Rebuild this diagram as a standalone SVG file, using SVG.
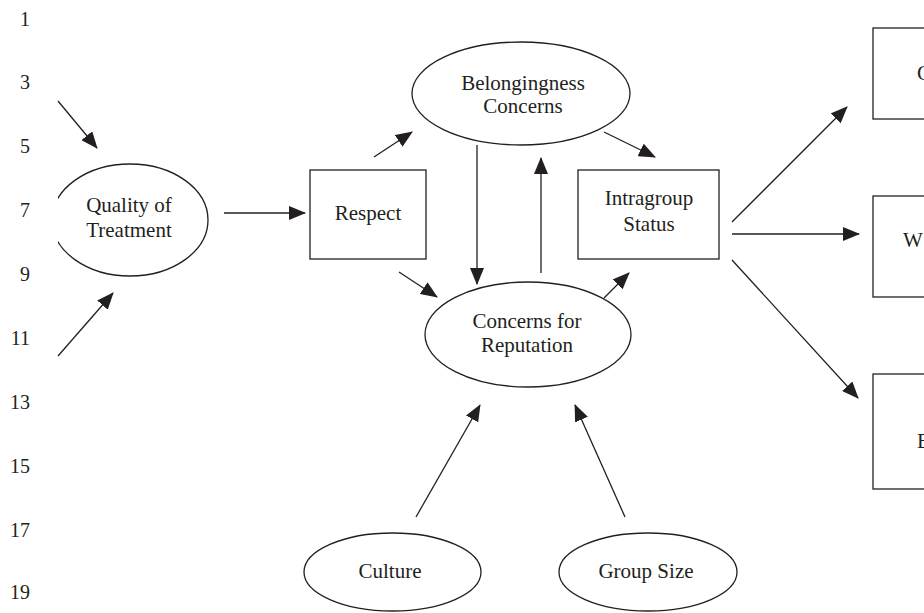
<svg xmlns="http://www.w3.org/2000/svg" width="924" height="613" viewBox="0 0 924 613">
<style>
.n{fill:none;stroke:#231f20;stroke-width:1.3}
.t{font-family:"Liberation Serif","Times New Roman",serif;font-size:21px;fill:#231f20;text-anchor:middle}
.num{font-family:"Liberation Serif","Times New Roman",serif;font-size:20px;fill:#231f20;text-anchor:end}
.c line{stroke:#231f20;stroke-width:1.3;marker-end:url(#ah)}
</style>
<defs>
<marker id="ah" markerUnits="userSpaceOnUse" markerWidth="18" markerHeight="14" refX="16" refY="7" orient="auto">
<path d="M0,0 L17,7 L0,14 Z" fill="#231f20"/>
</marker>
<clipPath id="qclip"><rect x="58" y="150" width="200" height="140"/></clipPath>
</defs>
<rect width="924" height="613" fill="#fff"/>
<g id="line-numbers">
<text class="num" x="30" y="26">1</text>
<text class="num" x="30" y="89">3</text>
<text class="num" x="30" y="153">5</text>
<text class="num" x="30" y="217">7</text>
<text class="num" x="30" y="281">9</text>
<text class="num" x="30" y="345">11</text>
<text class="num" x="30" y="409">13</text>
<text class="num" x="30" y="473">15</text>
<text class="num" x="30" y="537">17</text>
<text class="num" x="30" y="599">19</text>
</g>
<g class="c" id="connectors">
<line x1="58" y1="101" x2="97" y2="148"/>
<line x1="58" y1="356" x2="113" y2="293"/>
<line x1="224" y1="213" x2="305" y2="213"/>
<line x1="374" y1="157" x2="412" y2="132"/>
<line x1="399" y1="272" x2="437" y2="297"/>
<line x1="477" y1="145" x2="477" y2="284"/>
<line x1="541" y1="273" x2="541" y2="158"/>
<line x1="604" y1="132" x2="655" y2="157"/>
<line x1="604" y1="298" x2="629" y2="273"/>
<line x1="732" y1="222" x2="847" y2="107"/>
<line x1="732" y1="234" x2="859" y2="234"/>
<line x1="732" y1="260" x2="858" y2="398"/>
<line x1="416" y1="517" x2="480" y2="405"/>
<line x1="625" y1="517" x2="575" y2="405"/>
</g>
<g id="quality">
<ellipse class="n" cx="130" cy="220" rx="78" ry="56" clip-path="url(#qclip)"/>
<text class="t" x="129" y="212">Quality of</text>
<text class="t" x="129" y="237">Treatment</text>
</g>
<g id="respect">
<rect class="n" x="310" y="170" width="116" height="89"/>
<text class="t" x="368" y="220">Respect</text>
</g>
<g id="belongingness">
<ellipse class="n" cx="521" cy="93.5" rx="109" ry="51.5"/>
<text class="t" x="523" y="90">Belongingness</text>
<text class="t" x="523" y="113">Concerns</text>
</g>
<g id="reputation">
<ellipse class="n" cx="528" cy="334.5" rx="103" ry="52.5"/>
<text class="t" x="527" y="328">Concerns for</text>
<text class="t" x="527" y="352">Reputation</text>
</g>
<g id="intragroup">
<rect class="n" x="578" y="170" width="141" height="89"/>
<text class="t" x="649" y="205">Intragroup</text>
<text class="t" x="649" y="231">Status</text>
</g>
<g id="culture">
<ellipse class="n" cx="392.5" cy="572" rx="88.5" ry="39"/>
<text class="t" x="390" y="578">Culture</text>
</g>
<g id="groupsize">
<ellipse class="n" cx="648" cy="572" rx="89" ry="39"/>
<text class="t" x="646" y="578">Group Size</text>
</g>
<g id="outcome1">
<rect class="n" x="873" y="28" width="100" height="91"/>
<text class="t" x="917" y="80" style="text-anchor:start">C</text>
</g>
<g id="outcome2">
<rect class="n" x="873" y="196" width="100" height="101"/>
<text class="t" x="903" y="247" style="text-anchor:start">W</text>
</g>
<g id="outcome3">
<rect class="n" x="873" y="374" width="100" height="115"/>
<text class="t" x="917" y="448" style="text-anchor:start">E</text>
</g>
</svg>
